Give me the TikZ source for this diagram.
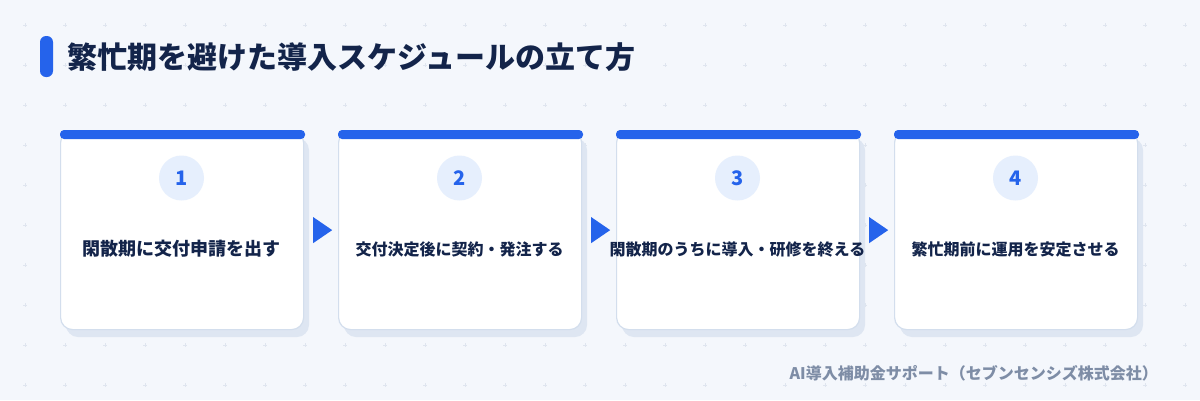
\documentclass[tikz,border=0pt]{standalone}
\usepackage{fontspec}
\setmainfont{Noto Sans CJK JP}
\usetikzlibrary{calc}
\usetikzlibrary{positioning}

\definecolor{bgc}{HTML}{F4F7FC}
\definecolor{accent}{HTML}{2563EB}
\definecolor{titlec}{HTML}{13244A}
\definecolor{circc}{HTML}{E6EFFD}
\definecolor{edgec}{HTML}{D3DEED}
\definecolor{shadowc}{HTML}{DEE6F2}
\definecolor{footc}{HTML}{7E8DA6}
\definecolor{gridc}{HTML}{DFE5EF}

\tikzset{
  card/.style={draw=edgec, line width=1.2pt, fill=white, rounded corners=12pt,
    minimum width=243, minimum height=199, anchor=north west, inner sep=0},
  numcirc/.style={circle, fill=circc, minimum size=45, inner sep=0,
    text=accent, font=\bfseries\fontsize{20}{20}\selectfont},
  steptext/.style={text=titlec, inner sep=0},
  gridmark/.style={gridc, line width=0.8pt}
}

\begin{document}
\begin{tikzpicture}[x=1pt, y=-1pt]
\fill[bgc] (0,0) rectangle (1200,400);
\useasboundingbox (0,0) rectangle (1200,400);

\foreach \gx in {0,...,29}
  \foreach \gy in {0,...,9}
    \draw[gridmark] (25+40*\gx-2,25+40*\gy) --++(4,0) (25+40*\gx,25+40*\gy-2) --++(0,4);

\fill[accent, rounded corners=6pt] (40,36) rectangle (53,77);
\node[anchor=west, text=titlec, inner sep=0, font=\bfseries\fontsize{30}{30}\selectfont] (title) at (67,57) {繁忙期を避けた導入スケジュールの立て方};

\foreach \i/\x/\fs/\txt in {1/60/18/{閑散期に交付申請を出す}, 2/338/16/{交付決定後に契約・発注する}, 3/616/16/{閑散期のうちに導入・研修を終える}, 4/894/16/{繁忙期前に運用を安定させる}} {
  \fill[shadowc, rounded corners=12pt] (\x+6,138) rectangle ++(243,199);
  \node[card] (card\i) at (\x,130) {};
  \fill[accent, rounded corners=4pt] (\x,130) rectangle ++(245,9);
  \node[numcirc] (num\i) at (\x+121.5,178) {\i};
  \node[steptext, font=\bfseries\fontsize{\fs}{\fs}\selectfont] (lbl\i) at (\x+121.5,249) {\txt};
}

\foreach \i in {1,2,3}
  \fill[accent] ($(card\i.east)+(9,-13)$) --++(19,13) --++(-19,13) -- cycle;

\node[anchor=east, text=footc, inner sep=0, font=\bfseries\fontsize{16}{16}\selectfont] (credit) at (1158,373) {AI導入補助金サポート（セブンセンシズ株式会社）};
\end{tikzpicture}
\end{document}
